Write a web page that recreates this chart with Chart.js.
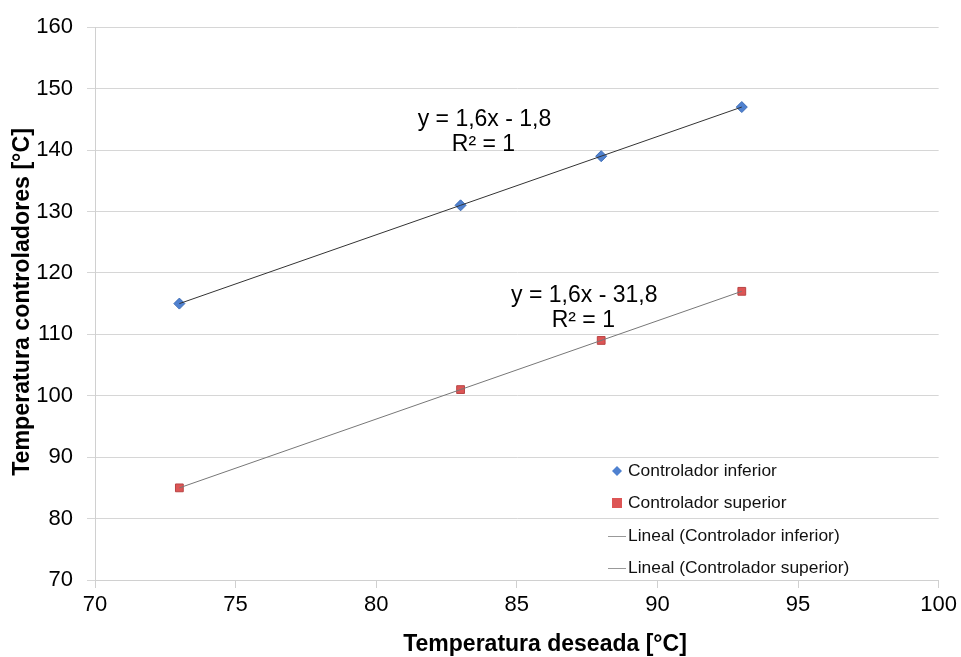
<!DOCTYPE html>
<html><head><meta charset="utf-8">
<script src="https://cdn.jsdelivr.net/npm/chart.js@4"></script>
<style>html,body{margin:0;padding:0;background:#fff}#wrap{width:961px;height:657px}</style>
</head><body><div id="wrap"><canvas id="c" width="961" height="657"></canvas></div>
<script>
const xValues = [73, 83, 88, 93];
const inferior = [115, 131, 139, 147];
const superior = [85, 101, 109, 117];
const trendInfX = [73, 93];
const trendInfY = [115, 147];
const trendSupX = [73, 93];
const trendSupY = [85, 117];
const seriesNames = ['Controlador inferior', 'Controlador superior', 'Lineal (Controlador inferior)', 'Lineal (Controlador superior)'];
const eqLabels = [['y = 1,6x - 1,8', 'R² = 1'], ['y = 1,6x - 31,8', 'R² = 1']];
const eqPos = [[83.85, 145.0], [87.4, 116.3]];
const xTitle = 'Temperatura deseada [°C]';
const yTitle = 'Temperatura controladores [°C]';

const pts = (xs, ys) => xs.map((x, i) => ({x: x, y: ys[i]}));
const FONT = '"Liberation Sans", Arial, sans-serif';

const overlay = {
  id: 'overlay',
  afterDraw(chart) {
    const ctx = chart.ctx, xs = chart.scales.x, ys = chart.scales.y;
    ctx.save();
    ctx.fillStyle = '#000';
    ctx.font = '23px ' + FONT;
    ctx.textAlign = 'center';
    ctx.textBaseline = 'middle';
    eqLabels.forEach((lab, i) => {
      const px = xs.getPixelForValue(eqPos[i][0]);
      const py = ys.getPixelForValue(eqPos[i][1]);
      ctx.fillText(lab[0], px, py);
      ctx.fillText(lab[1], px - 1, py + 25);
    });
    // axis titles
    ctx.font = 'bold 23px ' + FONT;
    ctx.fillText(xTitle, 545, 645);
    ctx.save();
    ctx.translate(23, 302);
    ctx.rotate(-Math.PI / 2);
    ctx.font = 'bold 23.2px ' + FONT;
    ctx.fillText(yTitle, 0, 0);
    ctx.restore();
    // legend
    const lx = 617, ly = [471, 503, 536, 568];
    ctx.font = '17.4px ' + FONT;
    ctx.textAlign = 'left';
    ctx.fillStyle = '#4F81D0';
    ctx.beginPath();
    ctx.moveTo(lx, ly[0] - 5); ctx.lineTo(lx + 5, ly[0]); ctx.lineTo(lx, ly[0] + 5); ctx.lineTo(lx - 5, ly[0]); ctx.closePath();
    ctx.fill();
    ctx.fillStyle = '#DD5555';
    ctx.fillRect(lx - 5, ly[1] - 5, 10, 10);
    ctx.strokeStyle = '#999';
    ctx.lineWidth = 1;
    [2, 3].forEach(k => { ctx.beginPath(); ctx.moveTo(608, ly[k] + 0.5); ctx.lineTo(626, ly[k] + 0.5); ctx.stroke(); });
    ctx.fillStyle = '#111';
    seriesNames.forEach((n, k) => ctx.fillText(n, 628, ly[k]));
    ctx.restore();
  }
};

new Chart(document.getElementById('c'), {
  type: 'scatter',
  data: {
    datasets: [
      {label: seriesNames[2], data: pts(trendInfX, trendInfY), showLine: true, borderColor: '#333', borderWidth: 1, pointRadius: 0, order: 0},
      {label: seriesNames[3], data: pts(trendSupX, trendSupY), showLine: true, borderColor: '#777', borderWidth: 1, pointRadius: 0, order: 0},
      {label: seriesNames[0], data: pts(xValues, inferior), pointStyle: 'rectRot', pointRadius: 5.5, backgroundColor: '#4F81D0', borderColor: '#3D6DB5', borderWidth: 1, order: 1},
      {label: seriesNames[1], data: pts(xValues, superior), pointStyle: 'rect', pointRadius: 5.5, backgroundColor: '#DD5555', borderColor: '#B84444', borderWidth: 1, order: 1}
    ]
  },
  options: {
    responsive: false,
    animation: false,
    layout: {padding: {left: 0, right: 21, top: 24, bottom: 0}},
    plugins: {legend: {display: false}, tooltip: {enabled: false}},
    scales: {
      x: {
        type: 'linear', min: 70, max: 100,
        ticks: {stepSize: 5, color: '#000', font: {family: FONT, size: 22}, padding: 4},
        grid: {display: true, drawOnChartArea: false, drawTicks: true, tickLength: 8, color: '#d0d0d0'},
        border: {color: '#d0d0d0'},
        title: {display: false},
        afterFit(s) { s.height = 77; }
      },
      y: {
        type: 'linear', min: 70, max: 160,
        ticks: {stepSize: 10, color: '#000', font: {family: FONT, size: 22}, padding: 14},
        grid: {color: '#d6d6d6', tickLength: 8},
        border: {color: '#d0d0d0'},
        title: {display: false},
        afterFit(s) { s.width = 95; }
      }
    }
  },
  plugins: [overlay]
});
</script></body></html>
